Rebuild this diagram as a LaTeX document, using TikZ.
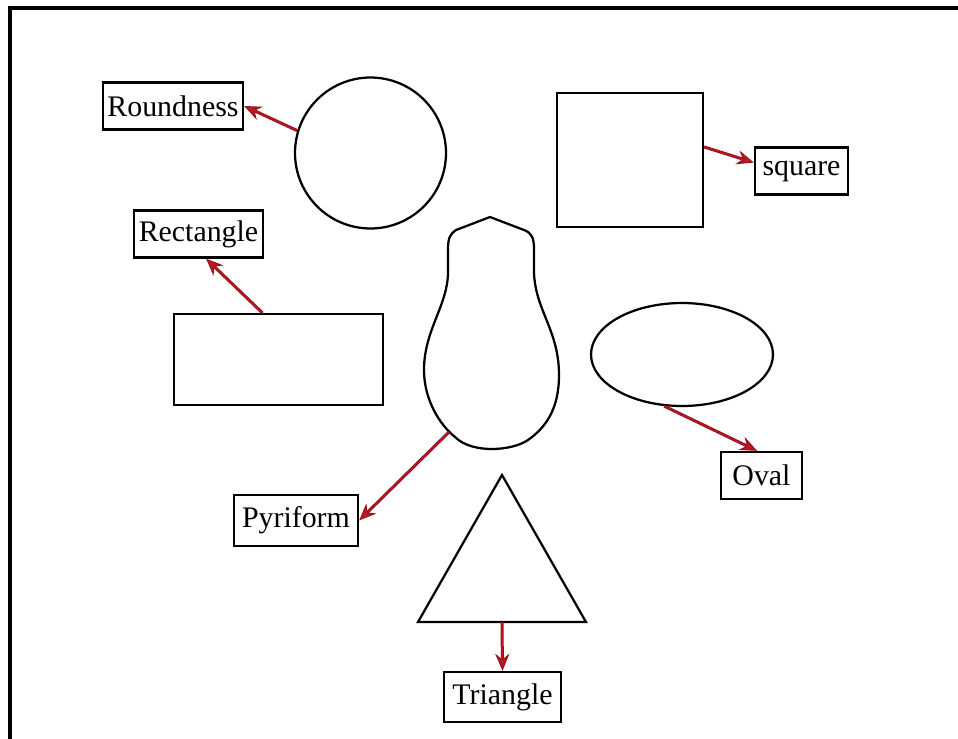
\documentclass[tikz,border=0pt]{standalone}
\usepackage{fontspec}
\setmainfont{Liberation Serif}
\usetikzlibrary{arrows.meta,shapes.geometric}
\definecolor{arrowred}{RGB}{192,22,36}
\tikzset{
	lab/.style={draw, line width=0.045cm, inner sep=0pt, minimum height=0.94cm, font=\fontsize{17}{20}\selectfont},
	shp/.style={draw, line width=0.045cm, inner sep=0pt},
	redarrow/.style={draw=arrowred!75!black, line width=0.06cm, -{Stealth[length=0.34cm,width=0.28cm]},
		postaction={draw=arrowred, line width=0.025cm, -{Stealth[length=0.24cm,width=0.18cm,fill=arrowred]}, shorten >=0.04cm}}
}
\begin{document}
\begin{tikzpicture}[x=0.02cm, y=-0.02cm]
	\useasboundingbox (0,0) rectangle (958,738);
	% frame
	\draw[line width=0.08cm] (10,780) -- (10,8) -- (980,8);

	% shapes
	\node[shp, circle, minimum size=3.02cm] (circ) at (370.5,153) {};
	\node[shp, rectangle, minimum width=2.92cm, minimum height=2.68cm] (sq) at (630,160) {};
	\node[shp, rectangle, minimum width=4.18cm, minimum height=1.82cm] (rect) at (278.5,359.5) {};
	\node[shp, ellipse, minimum width=3.64cm, minimum height=2.06cm] (ell) at (682,354.5) {};
	\draw[line width=0.045cm] (490,217) -- (524,230) .. controls (532,233) and (534,238) .. (534,250)
		-- (534,272) .. controls (535,310) and (559,330) .. (559,375)
		.. controls (559,410) and (545,428) .. (528,440)
		.. controls (512,451) and (472,454) .. (455,437)
		.. controls (440,425) and (424,400) .. (424,370)
		.. controls (424,330) and (448,305) .. (448,272)
		-- (448,250) .. controls (448,238) and (450,234) .. (456,230) -- cycle;
	\coordinate (pear) at (449,432);
	\draw[line width=0.045cm] (502,475) -- (586,622) -- (418,622) -- cycle;
	\coordinate (tribase) at (502,622);

	% labels
	\node[lab, minimum width=2.8cm] (roundness) at (173,106) {Roundness};
	\node[lab, minimum width=1.86cm] (square) at (801.5,171) {square};
	\node[lab, minimum width=2.58cm] (rectangle) at (198.5,234) {Rectangle};
	\node[lab, minimum width=1.62cm] (oval) at (761.5,475.5) {Oval};
	\node[lab, minimum width=2.48cm, minimum height=1.02cm] (pyriform) at (296,520.5) {Pyriform};
	\node[lab, minimum width=2.34cm, minimum height=1.0cm] (triangle) at (502.5,697) {Triangle};

	% arrows
	\draw[redarrow] (circ.163) -- (roundness.east);
	\draw[redarrow] (sq.10) -- (square.170);
	\draw[redarrow] (rect.109) -- (rectangle.-73);
	\draw[redarrow] (ell.251) -- (oval.100);
	\draw[redarrow] (pear) -- (pyriform.east);
	\draw[redarrow] (tribase) -- (triangle.north);
\end{tikzpicture}
\end{document}
